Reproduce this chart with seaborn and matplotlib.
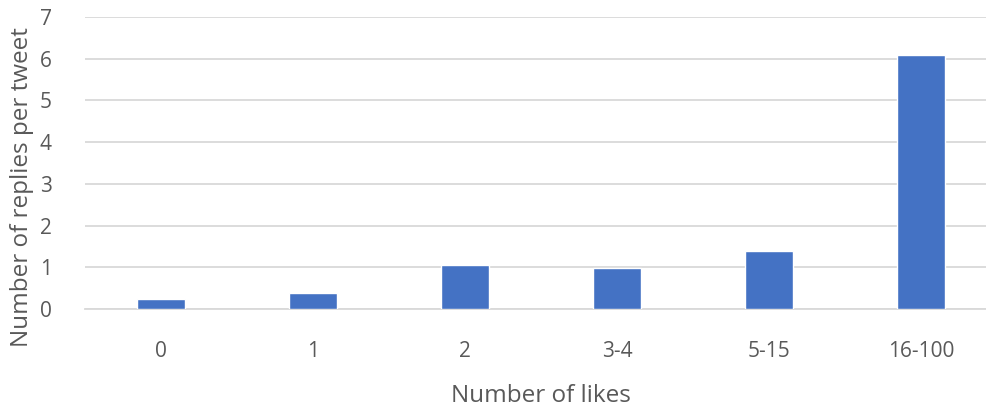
import matplotlib
matplotlib.use("Agg")
import matplotlib.pyplot as plt
import seaborn as sns
import pandas as pd

categories = ["0", "1", "2", "3-4", "5-15", "16-100"]
replies = [0.23, 0.39, 1.06, 0.99, 1.39, 6.10]

df = pd.DataFrame({"likes": categories, "replies": replies})

sns.set_theme(style="white")
plt.rcParams["font.family"] = ["Open Sans", "DejaVu Sans"]

fig = plt.figure(figsize=(9.87, 4.07), dpi=100)
ax = fig.add_axes([85/987, 1-309/407, 912/987, (309-17)/407])

sns.barplot(data=df, x="likes", y="replies", color="#4472C4", width=0.32,
            saturation=1, ax=ax, zorder=3)

ax.set_ylim(0, 7)
ax.set_yticks(range(0, 8))
ax.grid(axis="y", color="#D9D9D9", linewidth=1.3, zorder=0)
ax.set_axisbelow(True)
for s in ["top", "right", "left"]:
    ax.spines[s].set_visible(False)
ax.spines["bottom"].set_color("#D9D9D9")
ax.spines["bottom"].set_linewidth(1.3)
ax.tick_params(axis="both", length=0, labelsize=15, colors="#595959")
ax.tick_params(axis="x", pad=23)
ax.tick_params(axis="y", pad=24)
ax.set_xlabel("Number of likes", fontsize=17.5, color="#595959", labelpad=16)
ax.set_ylabel("Number of replies per tweet", fontsize=17.5, color="#595959")
ax.yaxis.set_label_coords(-0.056, 0.418)

fig.savefig("out.png", dpi=100)
